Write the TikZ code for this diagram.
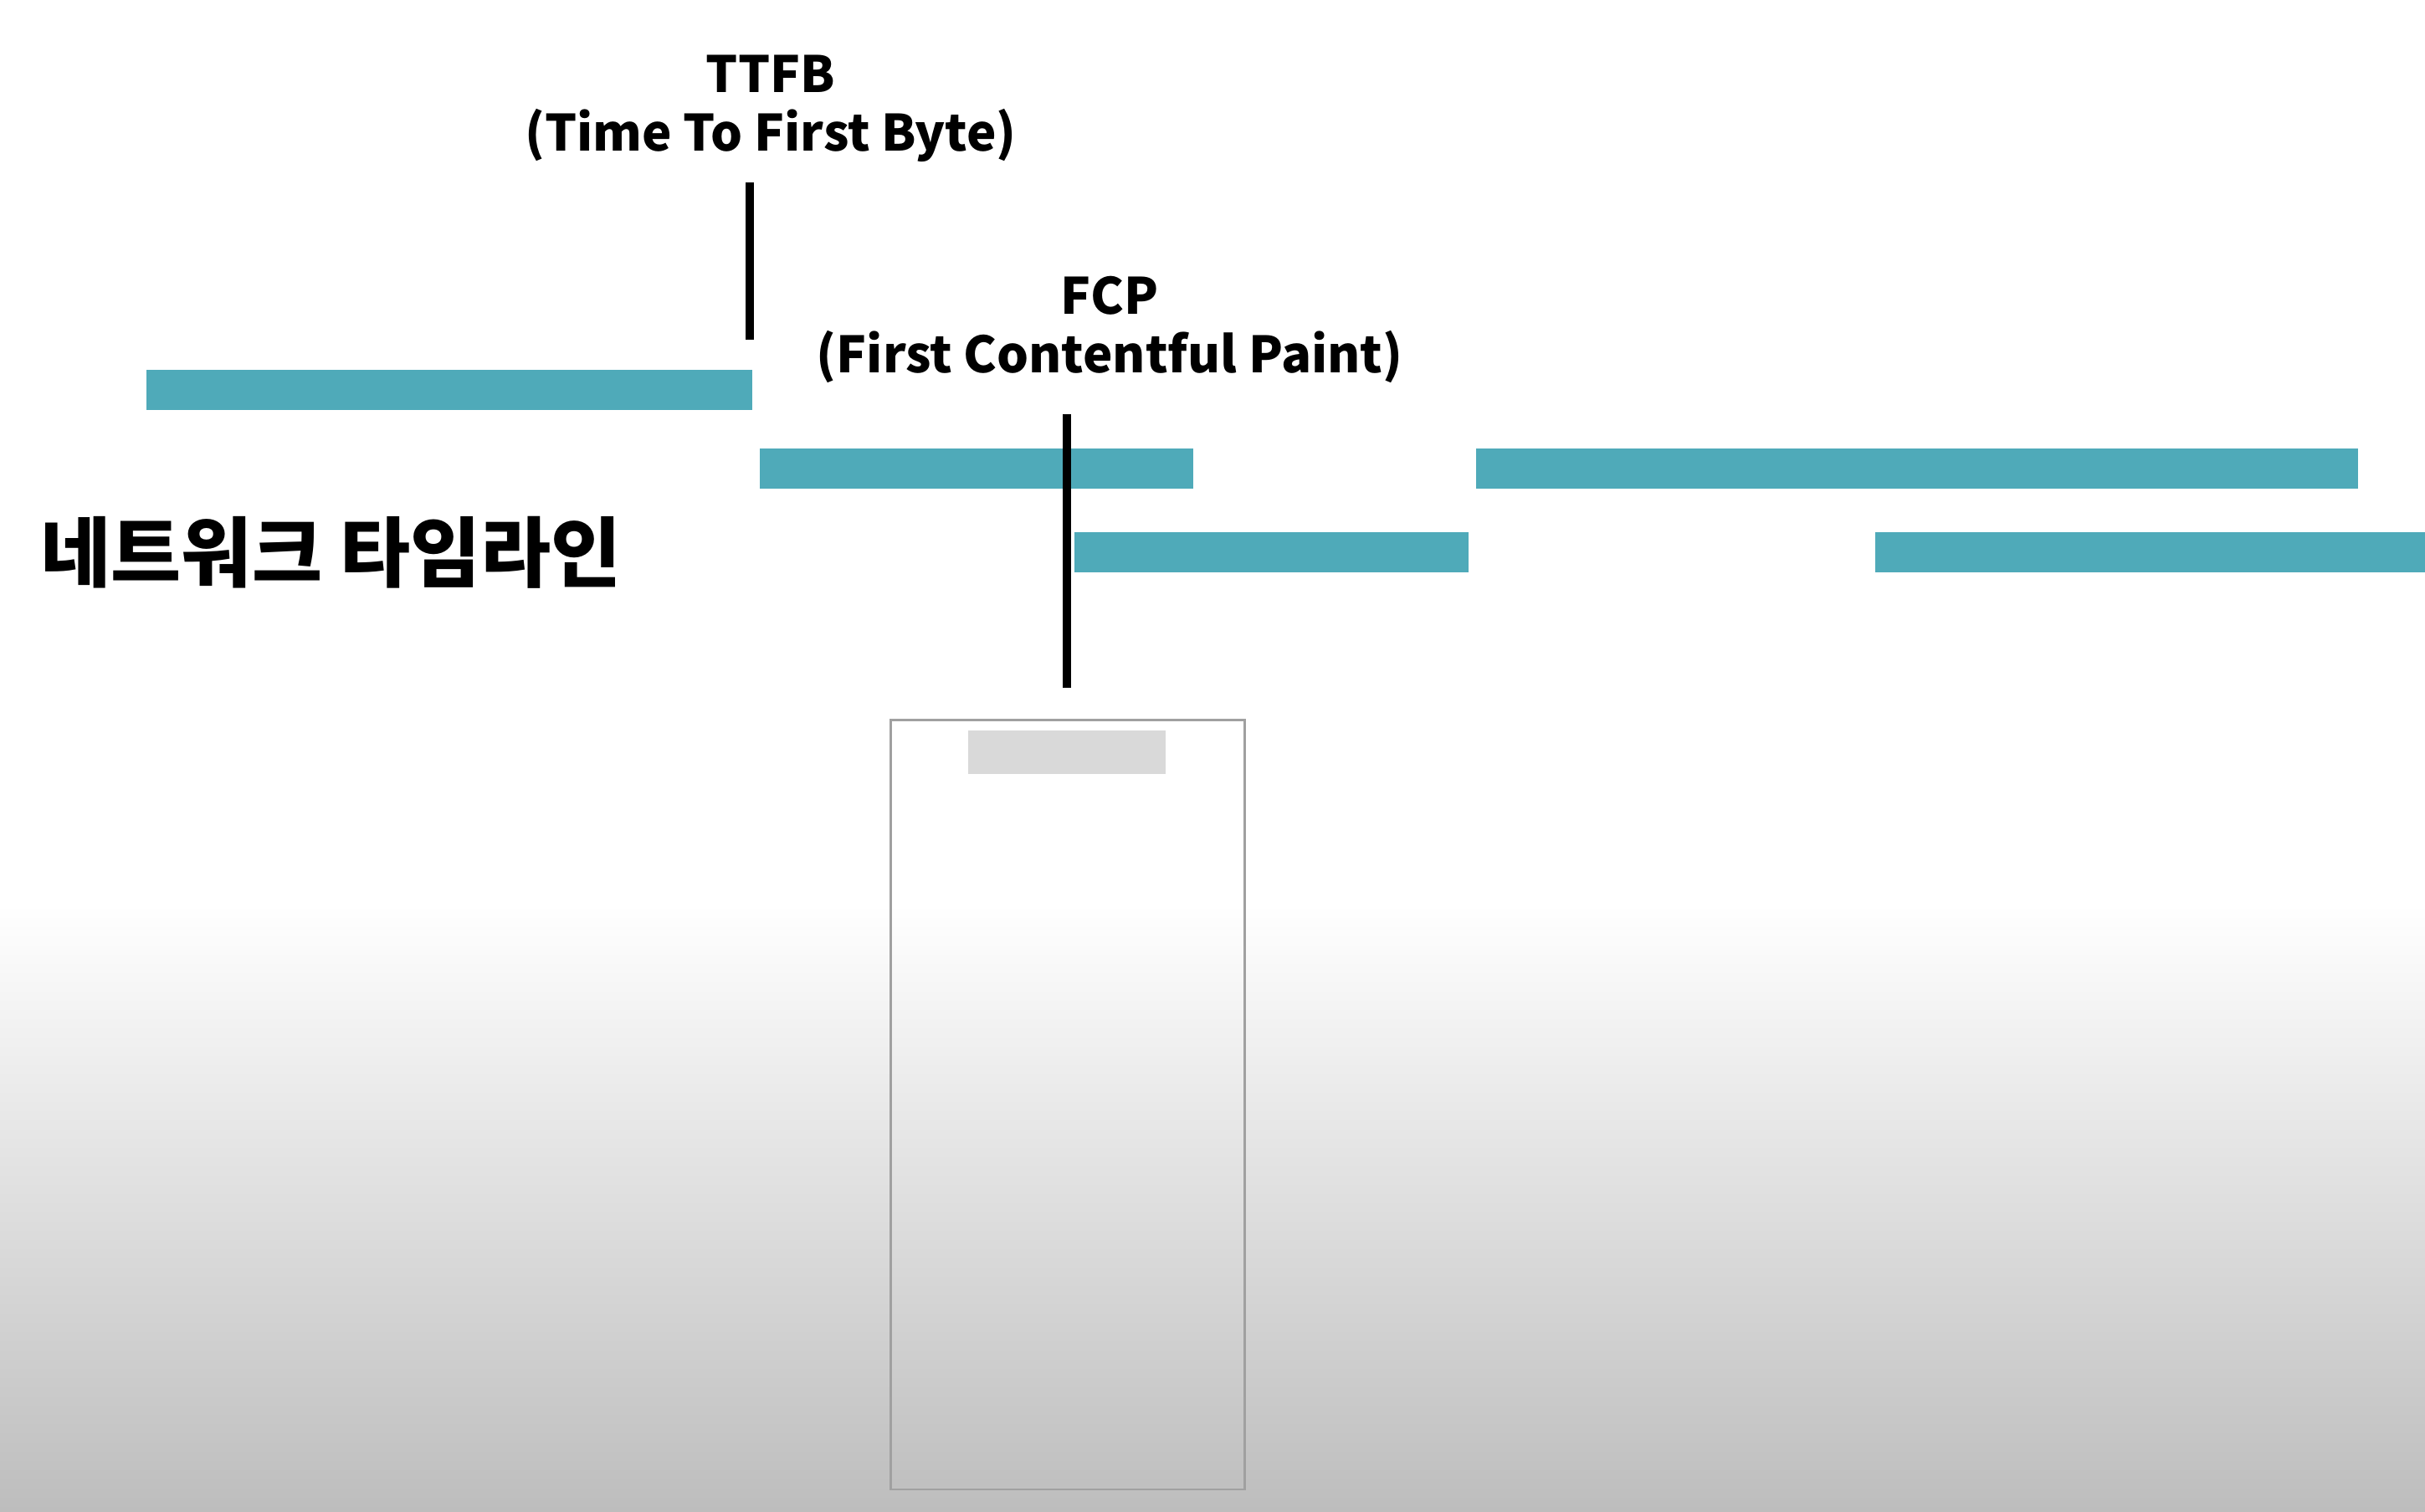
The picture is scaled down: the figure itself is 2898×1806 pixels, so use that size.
\documentclass[tikz,border=0pt]{standalone}
\usepackage{fontspec}
\setmainfont{Noto Sans CJK KR}
\usepackage{tikz}
\usetikzlibrary{positioning}

\definecolor{barteal}{RGB}{79,170,185}
\definecolor{bggray}{RGB}{189,189,189}
\definecolor{notchgray}{RGB}{217,217,217}
\definecolor{framegray}{RGB}{160,160,160}

\begin{document}
\begin{tikzpicture}[
    x=0.01cm, y=-0.01cm,
    bar/.style={fill=barteal, inner sep=0pt, minimum height=0.48cm, anchor=west},
    ttl/.style={align=center, font=\bfseries\fontsize{17}{20}\selectfont, inner sep=0pt},
    msline/.style={line width=2.8pt, black},
    phone/.style={draw=framegray, line width=0.8pt, inner sep=0pt, minimum width=4.23cm, minimum height=9.19cm}
  ]
  \useasboundingbox (0,0) rectangle (2898,1806);
  % background
  \fill[white] (0,0) rectangle (2898,1806);
  \shade[top color=white, bottom color=bggray] (0,1080) rectangle (2898,1806);

  % network requests
  \node[bar, minimum width=7.24cm]  (req1) at (174,466)  {};
  \node[bar, minimum width=5.18cm]  (req2) at (907,560)  {};
  \node[bar, minimum width=10.54cm] (req3) at (1763,560) {};
  \node[bar, minimum width=4.71cm]  (req4) at (1283,660) {};
  \node[bar, minimum width=6.58cm]  (req5) at (2240,660) {};

  \node[anchor=west, inner sep=0pt, font=\bfseries\fontsize{26}{29}\selectfont] (tl) at (48,660) {네트워크 타임라인};

  % milestones
  \node[ttl] (ttfb) at (921,130) {TTFB\\(Time To First Byte)};
  \node[ttl] (fcp)  at (1326,394) {FCP\\(First Contentful Paint)};
  \coordinate (ttfbtop) at (896,218);
  \coordinate (ttfbbot) at (896,406);
  \coordinate (fcptop)  at (1275,495);
  \coordinate (fcpbot)  at (1275,822);
  \draw[msline] (ttfbtop) -- (ttfbbot);
  \draw[msline] (fcptop) -- (fcpbot);

  % screen
  \node[phone, anchor=north west] (scr) at (1063,859) {};
  \node[fill=notchgray, inner sep=0pt, minimum width=2.36cm, minimum height=0.52cm, anchor=north] (hdr) at (1275,872) {};
\end{tikzpicture}
\end{document}
